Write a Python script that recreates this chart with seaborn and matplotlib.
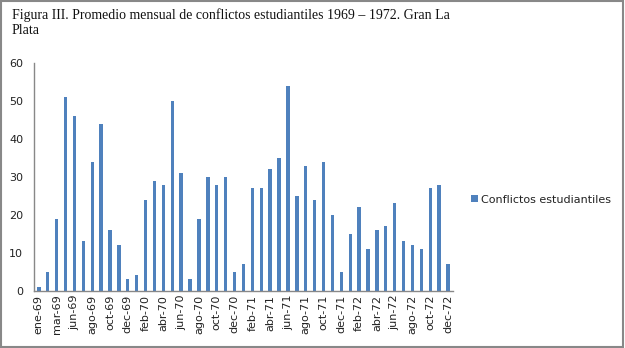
import matplotlib
matplotlib.use("Agg")
import matplotlib.pyplot as plt
import seaborn as sns
import pandas as pd
from matplotlib.patches import Rectangle

months = ["ene-69", "feb-69", "mar-69", "may-69", "jun-69", "jul-69", "ago-69", "sep-69",
          "oct-69", "nov-69", "dec-69",
          "ene-70", "feb-70", "mar-70", "abr-70", "may-70", "jun-70", "jul-70", "ago-70",
          "sep-70", "oct-70", "nov-70", "dec-70",
          "ene-71", "feb-71", "mar-71", "abr-71", "may-71", "jun-71", "jul-71", "ago-71",
          "sep-71", "oct-71", "nov-71", "dec-71",
          "ene-72", "feb-72", "mar-72", "abr-72", "may-72", "jun-72", "jul-72", "ago-72",
          "sep-72", "oct-72", "nov-72", "dec-72"]
conflictos = [1, 5, 19, 51, 46, 13, 34, 44, 16, 12, 3,
              4, 24, 29, 28, 50, 31, 3, 19, 30, 28, 30,
              5, 7, 27, 27, 32, 35, 54, 25, 33, 24, 34,
              20, 5, 15, 22, 11, 16, 17, 23, 13, 12, 11,
              27, 28, 7]
series_name = "Conflictos estudiantiles"
title = "Figura III. Promedio mensual de conflictos estudiantiles 1969 \u2013 1972. Gran La\nPlata"

df = pd.DataFrame({"mes": months, "valor": conflictos, "serie": series_name})

sns.set_theme(style="white")
plt.rcParams["font.family"] = ["DejaVu Sans"]

fig = plt.figure(figsize=(6.25, 3.48), dpi=100)
ax = fig.add_axes([0.055, 0.165, 0.669, 0.653])

blue = "#4F81BD"
sns.barplot(data=df, x="mes", y="valor", hue="serie", palette=[blue],
            width=0.38, ax=ax, saturation=1, dodge=False,
            linewidth=0, edgecolor=blue)

ax.set_ylim(0, 60)
ax.set_yticks(range(0, 61, 10))
ax.set_xlim(-0.5, len(months) - 0.5)
ax.set_xlabel("")
ax.set_ylabel("")

ax.set_xticks(range(len(months)))
ax.set_xticklabels([m if i % 2 == 0 else "" for i, m in enumerate(months)],
                   rotation=90, fontsize=8, color="#222222")
ax.tick_params(axis="y", labelsize=8, colors="#222222", length=0, pad=8)
ax.tick_params(axis="x", length=0, pad=3)

for s in ["top", "right"]:
    ax.spines[s].set_visible(False)
for s in ["left", "bottom"]:
    ax.spines[s].set_color("#888888")
    ax.spines[s].set_linewidth(1)

leg = ax.legend(loc="center left", bbox_to_anchor=(1.02, 0.4), frameon=False,
                fontsize=8, handlelength=0.6, handleheight=0.6, handletextpad=0.3)
for t in leg.get_texts():
    t.set_color("#222222")

fig.text(0.019, 0.975, title, fontsize=10, family="Liberation Serif",
         va="top", ha="left", color="#111111", linespacing=1.15)

fig.patches.append(Rectangle((0.0015, 0.003), 0.995, 0.993, transform=fig.transFigure,
                             fill=False, edgecolor="#888888", linewidth=1.5))

fig.savefig("out.png", dpi=100)
